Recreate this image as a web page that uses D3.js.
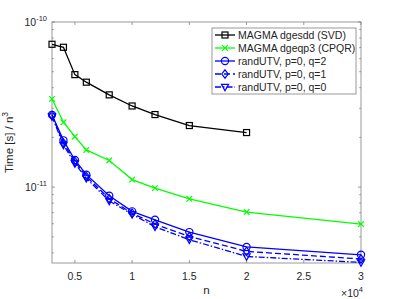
<!DOCTYPE html>
<html>
<head>
<meta charset="utf-8">
<script src="https://cdn.jsdelivr.net/npm/d3@7"></script>
<style>
  body { margin: 0; background: #fff; }
  svg { font-family: "Liberation Sans", Arial, sans-serif; }
  text { fill: #262626; }
</style>
</head>
<body>
<svg id="chart" width="399" height="299"></svg>
<script>
// data
const sizes = [3000, 4000, 5000, 6000, 8000, 10000, 12000, 15000, 20000, 30000];
const svdTimes = [7.33e-11, 7.03e-11, 4.80e-11, 4.32e-11, 3.62e-11, 3.10e-11, 2.75e-11, 2.36e-11, 2.14e-11];
const cpqrTimes = [3.42e-11, 2.47e-11, 2.02e-11, 1.68e-11, 1.45e-11, 1.11e-11, 9.86e-12, 8.49e-12, 7.06e-12, 5.97e-12];
const q2Times = [2.74e-11, 1.92e-11, 1.46e-11, 1.19e-11, 8.86e-12, 7.13e-12, 6.34e-12, 5.34e-12, 4.34e-12, 3.89e-12];
const q1Times = [2.72e-11, 1.85e-11, 1.43e-11, 1.16e-11, 8.50e-12, 6.95e-12, 5.97e-12, 5.02e-12, 4.08e-12, 3.67e-12];
const q0Times = [2.68e-11, 1.80e-11, 1.39e-11, 1.13e-11, 8.25e-12, 6.85e-12, 5.75e-12, 4.80e-12, 3.80e-12, 3.50e-12];
const xTicks = [5000, 10000, 15000, 20000, 25000, 30000];
const xTickLabels = ["0.5", "1", "1.5", "2", "2.5", "3"];

const series = [
    { name: "MAGMA dgesdd (SVD)", values: svdTimes, color: "#000000", marker: "square", dash: null },
    { name: "MAGMA dgeqp3 (CPQR)", values: cpqrTimes, color: "#00ff00", marker: "cross", dash: null },
    { name: "randUTV, p=0, q=2", values: q2Times, color: "#0000ff", marker: "circle", dash: null },
    { name: "randUTV, p=0, q=1", values: q1Times, color: "#0000ff", marker: "diamond", dash: "6,3" },
    { name: "randUTV, p=0, q=0", values: q0Times, color: "#0000ff", marker: "triangle", dash: "6,2,1.5,2" }
];

const svg = d3.select("#chart");
const margin = { left: 52, top: 22, right: 38, bottom: 36 };
const width = 399 - margin.left - margin.right;
const height = 299 - margin.top - margin.bottom;

const x = d3.scaleLinear().domain([3000, 30000]).range([0, width]);
const y = d3.scaleLog().domain([3.47e-12, 1e-10]).range([height, 0]);

const g = svg.append("g").attr("transform", `translate(${margin.left},${margin.top})`);

// axes box
const axisColor = "#7f7f7f";
g.append("rect")
    .attr("width", width).attr("height", height)
    .attr("fill", "none").attr("stroke", axisColor).attr("stroke-width", 0.8);

// x ticks, bottom and top, pointing inward
xTicks.forEach((t, i) => {
    const px = x(t);
    g.append("line").attr("x1", px).attr("x2", px).attr("y1", height).attr("y2", height - 3)
        .attr("stroke", axisColor).attr("stroke-width", 0.8);
    g.append("line").attr("x1", px).attr("x2", px).attr("y1", 0).attr("y2", 3)
        .attr("stroke", axisColor).attr("stroke-width", 0.8);
    g.append("text").attr("x", px).attr("y", height + 17)
        .attr("text-anchor", "middle").attr("font-size", 10.5).text(xTickLabels[i]);
});

// y ticks, major at decades and minor in between
const yTicks = [];
for (let e = -12; e <= -11; e++) {
    for (let m = 1; m <= 9; m++) {
        const v = m * Math.pow(10, e);
        if (v >= 3.47e-12 && v <= 1e-10) yTicks.push({ v, major: m === 1 });
    }
}
yTicks.push({ v: 1e-10, major: true });
yTicks.forEach(t => {
    const py = y(t.v);
    const len = t.major ? 3 : 1.8;
    g.append("line").attr("x1", 0).attr("x2", len).attr("y1", py).attr("y2", py)
        .attr("stroke", axisColor).attr("stroke-width", 0.8);
    g.append("line").attr("x1", width).attr("x2", width - len).attr("y1", py).attr("y2", py)
        .attr("stroke", axisColor).attr("stroke-width", 0.8);
    if (t.major) {
        const exp = Math.round(Math.log10(t.v));
        const lbl = g.append("text").attr("x", -5).attr("y", py + 4)
            .attr("text-anchor", "end").attr("font-size", 10.5);
        lbl.append("tspan").text("10");
        lbl.append("tspan").attr("dy", -5).attr("font-size", 7.5).text(exp);
    }
});

// axis labels
g.append("text").attr("x", width / 2).attr("y", height + 31)
    .attr("text-anchor", "middle").attr("font-size", 11.5).text("n");
const yl = g.append("text")
    .attr("transform", `translate(${-39},${height / 2}) rotate(-90)`)
    .attr("text-anchor", "middle").attr("font-size", 11.5);
yl.append("tspan").text("Time [s] / n");
yl.append("tspan").attr("dy", -5).attr("font-size", 8.5).text("3");

const mult = g.append("text").attr("x", width + 2).attr("y", height + 34)
    .attr("text-anchor", "end").attr("font-size", 10.5);
mult.append("tspan").text("×10");
mult.append("tspan").attr("dy", -5).attr("font-size", 7.5).text("4");

// markers
function drawMarker(sel, type, color, cx, cy) {
    const common = s => s.attr("fill", "none").attr("stroke", color).attr("stroke-width", 1.2);
    if (type === "square") {
        common(sel.append("rect").attr("x", cx - 3).attr("y", cy - 3).attr("width", 6).attr("height", 6));
    } else if (type === "circle") {
        common(sel.append("circle").attr("cx", cx).attr("cy", cy).attr("r", 3.6));
    } else if (type === "diamond") {
        common(sel.append("path").attr("d", `M${cx},${cy - 4.2}L${cx + 3.2},${cy}L${cx},${cy + 4.2}L${cx - 3.2},${cy}Z`));
    } else if (type === "triangle") {
        common(sel.append("path").attr("d", `M${cx - 3.6},${cy - 2.6}L${cx + 3.6},${cy - 2.6}L${cx},${cy + 3.8}Z`));
    } else if (type === "cross") {
        common(sel.append("path").attr("d", `M${cx - 2.8},${cy - 2.8}L${cx + 2.8},${cy + 2.8}M${cx - 2.8},${cy + 2.8}L${cx + 2.8},${cy - 2.8}`));
    }
}

const line = d3.line().x(d => x(d[0])).y(d => y(d[1]));

series.forEach(s => {
    const pts = s.values.map((v, i) => [sizes[i], v]);
    const sg = g.append("g");
    sg.append("path").datum(pts).attr("d", line)
        .attr("fill", "none").attr("stroke", s.color).attr("stroke-width", 1.3)
        .attr("stroke-dasharray", s.dash);
    pts.forEach(p => drawMarker(sg, s.marker, s.color, x(p[0]), y(p[1])));
});

// legend
const lg = svg.append("g").attr("transform", "translate(212,28)");
lg.append("rect").attr("width", 144).attr("height", 66)
    .attr("fill", "#fff").attr("stroke", axisColor).attr("stroke-width", 0.8);
series.forEach((s, i) => {
    const ly = 7 + i * 13;
    lg.append("line").attr("x1", 3).attr("x2", 23).attr("y1", ly).attr("y2", ly)
        .attr("stroke", s.color).attr("stroke-width", 1.3).attr("stroke-dasharray", s.dash);
    drawMarker(lg, s.marker, s.color, 13, ly);
    lg.append("text").attr("x", 26).attr("y", ly + 3.8).attr("font-size", 10.5).text(s.name);
});
</script>
</body>
</html>
